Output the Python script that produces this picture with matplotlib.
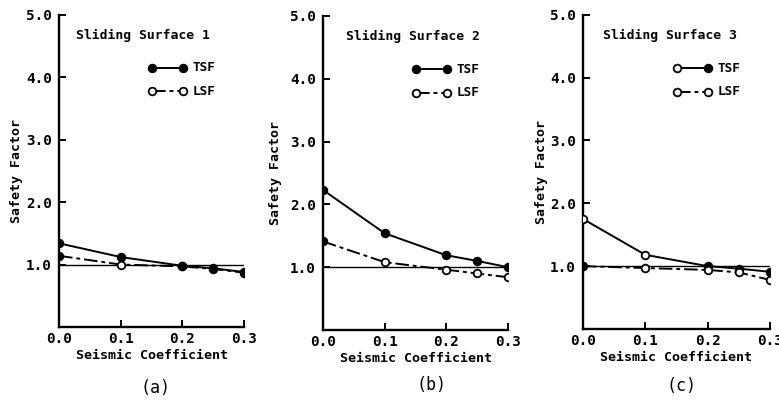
import matplotlib
matplotlib.use("Agg")
import matplotlib.pyplot as plt

# seismic coefficient
x = [0.0, 0.1, 0.2, 0.25, 0.3]

# safety factors
a_tsf = [1.34, 1.12, 0.98, 0.94, 0.88]
a_lsf = [1.14, 1.00, 0.97, 0.93, 0.87]
b_tsf = [2.23, 1.54, 1.19, 1.10, 1.00]
b_lsf = [1.41, 1.08, 0.96, 0.90, 0.84]
c_tsf = [1.75, 1.18, 1.00, 0.96, 0.91]
c_lsf = [1.00, 0.97, 0.94, 0.90, 0.78]

# which markers are drawn filled
a_tsf_fill = [True, True, True, True, True]
a_lsf_fill = [True, False, True, True, True]
b_tsf_fill = [True, True, True, True, True]
b_lsf_fill = [True, False, False, False, False]
c_tsf_fill = [False, False, True, True, True]
c_lsf_fill = [True, False, False, False, False]

titles = ["Sliding Surface 1", "Sliding Surface 2", "Sliding Surface 3"]
panel_tags = ["(a)", "(b)", "(c)"]
yticks = [1.0, 2.0, 3.0, 4.0, 5.0]
xticks = [0.0, 0.1, 0.2, 0.3]
ref_level = 1.0

MONO = "DejaVu Sans Mono"
LSF_DASH = (0, (7, 2, 2, 2))

W, H = 779, 404
fig = plt.figure(figsize=(W / 100, H / 100), dpi=100)


def px_axes(left, right, top, bottom):
    return fig.add_axes([left / W, 1 - bottom / H, (right - left) / W, (bottom - top) / H])


def draw_series(ax, xs, ys, filled, ls):
    ax.plot(xs, ys, color="black", lw=1.4, ls=ls, zorder=3)
    for xi, yi, f in zip(xs, ys, filled):
        ax.plot(xi, yi, marker="o", ms=5.5, mec="black", mew=1.3,
                mfc="black" if f else "white", zorder=4)


def legend_entry(ax, y, label, left_fill, right_fill, ls):
    x0, x1 = 0.50, 0.67
    ax.plot([x0, x1], [y, y], transform=ax.transAxes, color="black", lw=1.4, ls=ls,
            clip_on=False)
    for xx, f in [(x0, left_fill), (x1, right_fill)]:
        ax.plot(xx, y, transform=ax.transAxes, marker="o", ms=5.5, mec="black", mew=1.3,
                mfc="black" if f else "white", clip_on=False)
    ax.text(x1 + 0.05, y, label, transform=ax.transAxes, va="center", ha="left",
            family=MONO, weight="bold", fontsize=9.2)


panels = [
    dict(box=(59, 244, 14.7, 327), tsf=a_tsf, lsf=a_lsf, tf=a_tsf_fill, lf=a_lsf_fill,
         leg_t=(True, True), ylab_x=23, tx=0.09, tag=(155, 388)),
    dict(box=(323, 508, 16.0, 330), tsf=b_tsf, lsf=b_lsf, tf=b_tsf_fill, lf=b_lsf_fill,
         leg_t=(True, True), ylab_x=282, tx=0.125, tag=(432, 385)),
    dict(box=(583, 770, 14.7, 329), tsf=c_tsf, lsf=c_lsf, tf=c_tsf_fill, lf=c_lsf_fill,
         leg_t=(False, True), ylab_x=548, tx=0.105, tag=(682, 386)),
]

for i, p in enumerate(panels):
    left, right, top, bottom = p["box"]
    ax = px_axes(left, right, top, bottom)
    ax.set_xlim(0, 0.3)
    ax.set_ylim(0, 5.0)
    for s in ["top", "right"]:
        ax.spines[s].set_visible(False)
    for s in ["left", "bottom"]:
        ax.spines[s].set_linewidth(1.7)
    ax.set_xticks(xticks)
    ax.set_xticklabels([f"{v:.1f}" for v in xticks])
    ax.set_yticks(yticks)
    ax.set_yticklabels([f"{v:.1f}" for v in yticks])
    ax.tick_params(direction="in", length=5, width=1.4)
    ax.tick_params(axis="x", pad=3.5)
    ax.tick_params(axis="y", pad=5)
    for lab in ax.get_xticklabels() + ax.get_yticklabels():
        lab.set_family(MONO)
        lab.set_fontweight("bold")
        lab.set_fontsize(10.3)

    ax.plot([0, 0.3], [ref_level, ref_level], color="black", lw=1.0, zorder=2)
    draw_series(ax, x, p["tsf"], p["tf"], "-")
    draw_series(ax, x, p["lsf"], p["lf"], LSF_DASH)

    ax.text(p["tx"], 0.935, titles[i], transform=ax.transAxes, ha="left", va="center",
            family=MONO, weight="bold", fontsize=9.4)
    legend_entry(ax, 0.83, "TSF", p["leg_t"][0], p["leg_t"][1], "-")
    legend_entry(ax, 0.755, "LSF", False, False, LSF_DASH)

    ax.set_ylabel("Safety Factor", family=MONO, weight="bold", fontsize=9.5)
    ax.yaxis.set_label_coords((p["ylab_x"] - left) / (right - left), 0.5)
    ax.set_xlabel("Seismic Coefficient", family=MONO, weight="bold", fontsize=9.6,
                  labelpad=2)
    fig.text(p["tag"][0] / W, 1 - p["tag"][1] / H, panel_tags[i], ha="center",
             va="center", family=MONO, fontsize=12)

fig.savefig("out.png", dpi=100, facecolor="white")
